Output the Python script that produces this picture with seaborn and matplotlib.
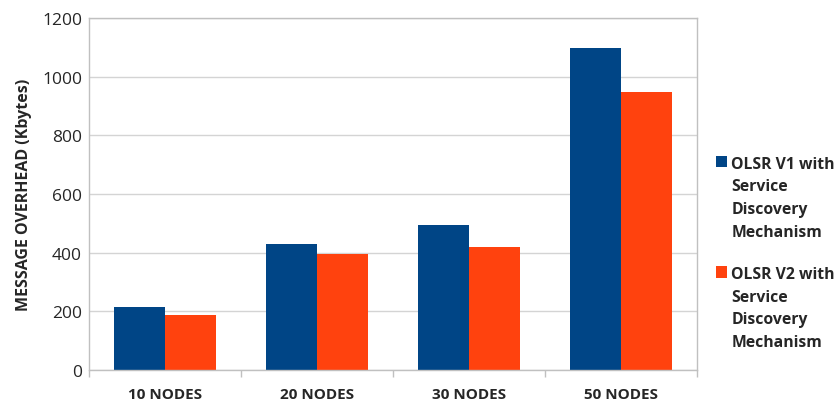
import pandas as pd
import seaborn as sns
import matplotlib.pyplot as plt
from matplotlib.ticker import FixedLocator

# data
nodes = ["10 NODES", "20 NODES", "30 NODES", "50 NODES"]
v1_overhead = [214, 430, 495, 1098]
v2_overhead = [188, 394, 418, 948]
series = ["OLSR V1 with\nService\nDiscovery\nMechanism",
          "OLSR V2 with\nService\nDiscovery\nMechanism"]
y_ticks = [0, 200, 400, 600, 800, 1000, 1200]

df = pd.DataFrame({
    "nodes": nodes * 2,
    "overhead": v1_overhead + v2_overhead,
    "series": [series[0]] * 4 + [series[1]] * 4,
})

sns.set_theme(style="white")
plt.rcParams["font.family"] = ["Open Sans", "DejaVu Sans"]

fig = plt.figure(figsize=(8.35, 4.06), dpi=100)
ax = fig.add_axes([0.1066, 0.0862, 0.7281, 0.867])

sns.barplot(data=df, x="nodes", y="overhead", hue="series",
            palette=["#004586", "#ff420e"], width=0.667, gap=0,
            saturation=1, linewidth=0, ax=ax)

ax.set_ylim(0, 1200)
ax.set_xlim(-0.5, 3.5)
ax.set_yticks(y_ticks)
ax.yaxis.grid(True, color="#d4d4d4", linewidth=1)
ax.set_axisbelow(True)
for s in ax.spines.values():
    s.set_color("#c0c0c0")
    s.set_linewidth(1)

ax.set_xlabel("")
ax.set_ylabel("MESSAGE OVERHEAD (Kbytes)", fontsize=11.5, fontweight="bold",
              labelpad=7)
ax.tick_params(axis="y", labelsize=12.5, length=0, pad=5)
ax.tick_params(axis="x", which="major", labelsize=11, length=0, pad=12)
for lbl in ax.get_xticklabels():
    lbl.set_fontweight("bold")
ax.xaxis.set_minor_locator(FixedLocator([-0.5, 0.5, 1.5, 2.5, 3.5]))
ax.tick_params(axis="x", which="minor", length=5, color="#c0c0c0",
               direction="out", bottom=True)

handles, labels = ax.get_legend_handles_labels()
ax.legend_.remove()
leg = fig.legend(handles, labels, loc="upper left",
                 bbox_to_anchor=(0.857, 0.614), borderaxespad=0, borderpad=0,
                 frameon=False, handlelength=0.75, handleheight=0.75,
                 handletextpad=0.25, labelspacing=1.7,
                 prop={"weight": "bold", "size": 11.3})
for t in leg.get_texts():
    t.set_linespacing(1.55)
# put the colour square next to the first line of each label
for column in leg._legend_handle_box.get_children():
    for item in column.get_children():
        item.align = "top"

fig.savefig("out.png", dpi=100)
